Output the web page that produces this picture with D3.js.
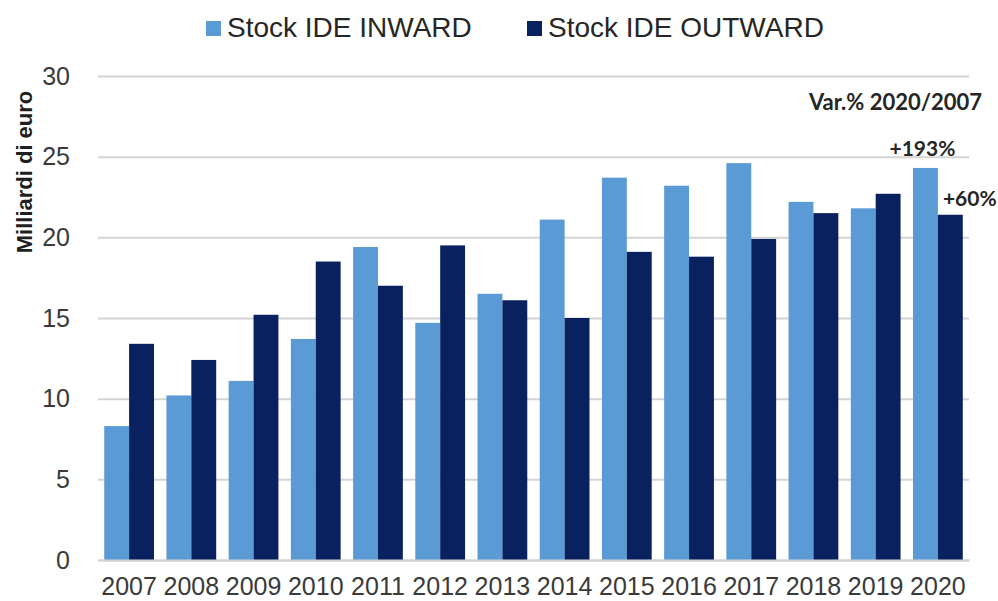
<!DOCTYPE html>
<html>
<head>
<meta charset="utf-8">
<script src="https://cdn.jsdelivr.net/npm/d3@7"></script>
<style>
  body { margin: 0; background: #fff; }
  svg { display: block; }
</style>
</head>
<body>
<svg></svg>
<script>
const YEARS = ['2007', '2008', '2009', '2010', '2011', '2012', '2013',
    '2014', '2015', '2016', '2017', '2018', '2019', '2020'];
const INWARD = [8.3, 10.2, 11.1, 13.7, 19.4, 14.7, 16.5, 21.1, 23.7, 23.2, 24.6, 22.2, 21.8, 24.3];
const OUTWARD = [13.4, 12.4, 15.2, 18.5, 17.0, 19.5, 16.1, 15.0, 19.1, 18.8, 19.9, 21.5, 22.7, 21.4];
const SERIES = ['Stock IDE INWARD', 'Stock IDE OUTWARD'];
const Y_TICKS = [0, 5, 10, 15, 20, 25, 30];
const VAR_TITLE = 'Var.% 2020/2007';
const VAR_LABELS = ['+193%', '+60%'];

const WIDTH = 998;
const HEIGHT = 601;
const PLOT = { left: 98, right: 969, top: 76, bottom: 560 };
const COLORS = ['#5b9bd5', '#0a215f'];

const data = YEARS.map((year, i) => ({ year, values: [INWARD[i], OUTWARD[i]] }));

const xScale = d3.scaleBand()
    .domain(YEARS)
    .range([PLOT.left, PLOT.right])
    .paddingInner(0.2)
    .paddingOuter(0.1);

const subScale = d3.scaleBand()
    .domain([0, 1])
    .range([0, xScale.bandwidth()]);

const yScale = d3.scaleLinear()
    .domain([0, 30])
    .range([PLOT.bottom, PLOT.top]);

const svg = d3.select('svg')
    .attr('width', WIDTH)
    .attr('height', HEIGHT);

// gridlines + y tick labels
const yAxis = svg.append('g')
    .attr('transform', `translate(${PLOT.left}, 0)`)
    .call(d3.axisLeft(yScale)
        .tickValues(Y_TICKS)
        .tickSizeInner(-(PLOT.right - PLOT.left))
        .tickSizeOuter(0)
        .tickPadding(28));
yAxis.select('.domain').remove();
yAxis.selectAll('line')
    .attr('stroke', '#d4d4d4')
    .attr('stroke-width', 2);
yAxis.selectAll('text')
    .attr('fill', '#3a3a3a')
    .style('font-family', '"Liberation Sans", Arial, sans-serif')
    .style('font-size', '25px');

// bars
const groups = svg.append('g')
    .selectAll('.group')
    .data(data)
    .enter()
    .append('g')
    .classed('group', true)
    .attr('transform', d => `translate(${xScale(d.year)}, 0)`);

groups.selectAll('rect')
    .data(d => d.values)
    .enter()
    .append('rect')
    .attr('x', (v, i) => subScale(i))
    .attr('y', v => yScale(v))
    .attr('width', subScale.bandwidth())
    .attr('height', v => PLOT.bottom - yScale(v))
    .attr('fill', (v, i) => COLORS[i]);

// x axis
const xAxis = svg.append('g')
    .attr('transform', `translate(0, ${PLOT.bottom})`)
    .call(d3.axisBottom(xScale).tickSize(0).tickPadding(17));
xAxis.select('.domain')
    .attr('stroke', '#d4d4d4')
    .attr('stroke-width', 2);
xAxis.selectAll('text')
    .attr('fill', '#3a3a3a')
    .style('font-family', '"Liberation Sans", Arial, sans-serif')
    .style('font-size', '25px');

// y axis title
svg.append('text')
    .text('Milliardi di euro')
    .attr('transform', 'translate(32, 172) rotate(-90)')
    .attr('text-anchor', 'middle')
    .attr('fill', '#1f1f1f')
    .style('font-family', '"Liberation Sans", Arial, sans-serif')
    .style('font-weight', 'bold')
    .style('font-size', '22px');

// legend
const legendX = [206, 527];
const legend = svg.append('g')
    .selectAll('g')
    .data(SERIES)
    .enter()
    .append('g')
    .attr('transform', (d, i) => `translate(${legendX[i]}, 0)`);
legend.append('rect')
    .attr('x', 0)
    .attr('y', 21)
    .attr('width', 15)
    .attr('height', 15)
    .attr('fill', (d, i) => COLORS[i]);
legend.append('text')
    .text(d => d)
    .attr('x', 21)
    .attr('y', 37)
    .attr('fill', '#262626')
    .style('font-family', '"Liberation Sans", Arial, sans-serif')
    .style('font-size', '28px');

// variation notes
const lastYear = YEARS[YEARS.length - 1];
const noteFont = 'Lato, "Open Sans", sans-serif';
svg.append('text')
    .text(VAR_TITLE)
    .attr('x', 809)
    .attr('y', 110)
    .attr('fill', '#262626')
    .style('font-family', noteFont)
    .style('font-weight', 'bold')
    .style('font-size', '22px');
svg.append('text')
    .text(VAR_LABELS[0])
    .attr('x', xScale(lastYear) + subScale(0) + subScale.bandwidth() / 2 - 3)
    .attr('y', yScale(INWARD[INWARD.length - 1]) - 12)
    .attr('text-anchor', 'middle')
    .attr('fill', '#262626')
    .style('font-family', noteFont)
    .style('font-weight', 'bold')
    .style('font-size', '21px');
svg.append('text')
    .text(VAR_LABELS[1])
    .attr('x', xScale(lastYear) + subScale(1) + 5)
    .attr('y', yScale(OUTWARD[OUTWARD.length - 1]) - 9)
    .attr('fill', '#262626')
    .style('font-family', noteFont)
    .style('font-weight', 'bold')
    .style('font-size', '21px');
</script>
</body>
</html>
